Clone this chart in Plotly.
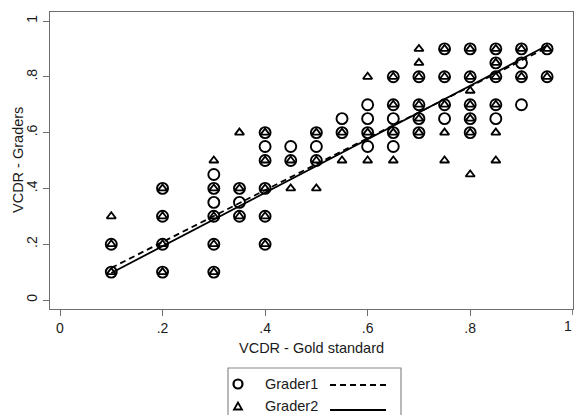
import plotly.graph_objects as go

# ---- data ----
g1_x = [0.1, 0.1,
        0.2, 0.2, 0.2, 0.2,
        0.3, 0.3, 0.3, 0.3, 0.3, 0.3,
        0.35, 0.35, 0.35,
        0.4, 0.4, 0.4, 0.4, 0.4, 0.4,
        0.45, 0.45,
        0.5, 0.5, 0.5,
        0.55, 0.55,
        0.6, 0.6, 0.6, 0.6,
        0.65, 0.65, 0.65, 0.65, 0.65,
        0.7, 0.7, 0.7, 0.7,
        0.75, 0.75, 0.75, 0.75,
        0.8, 0.8, 0.8, 0.8, 0.8,
        0.85, 0.85, 0.85, 0.85, 0.85,
        0.9, 0.9, 0.9, 0.9,
        0.95, 0.95]
g1_y = [0.1, 0.2,
        0.1, 0.2, 0.3, 0.4,
        0.1, 0.2, 0.3, 0.35, 0.4, 0.45,
        0.3, 0.35, 0.4,
        0.2, 0.3, 0.4, 0.5, 0.55, 0.6,
        0.5, 0.55,
        0.5, 0.55, 0.6,
        0.6, 0.65,
        0.55, 0.6, 0.65, 0.7,
        0.55, 0.6, 0.65, 0.7, 0.8,
        0.6, 0.65, 0.7, 0.8,
        0.65, 0.7, 0.8, 0.9,
        0.6, 0.65, 0.7, 0.8, 0.9,
        0.65, 0.7, 0.8, 0.85, 0.9,
        0.7, 0.8, 0.85, 0.9,
        0.8, 0.9]

g2_x = [0.1, 0.1, 0.1,
        0.2, 0.2, 0.2, 0.2,
        0.3, 0.3, 0.3, 0.3, 0.3,
        0.35, 0.35, 0.35,
        0.4, 0.4, 0.4, 0.4, 0.4,
        0.45, 0.45,
        0.5, 0.5, 0.5,
        0.55, 0.55,
        0.6, 0.6, 0.6,
        0.65, 0.65, 0.65, 0.65,
        0.7, 0.7, 0.7, 0.7, 0.7, 0.7,
        0.75, 0.75, 0.75, 0.75, 0.75,
        0.8, 0.8, 0.8, 0.8, 0.8, 0.8, 0.8,
        0.85, 0.85, 0.85, 0.85, 0.85, 0.85,
        0.9, 0.9,
        0.95, 0.95]
g2_y = [0.1, 0.2, 0.3,
        0.1, 0.2, 0.3, 0.4,
        0.1, 0.2, 0.3, 0.4, 0.5,
        0.3, 0.4, 0.6,
        0.2, 0.3, 0.4, 0.5, 0.6,
        0.4, 0.5,
        0.4, 0.5, 0.6,
        0.5, 0.6,
        0.5, 0.6, 0.8,
        0.5, 0.6, 0.7, 0.8,
        0.6, 0.65, 0.7, 0.8, 0.85, 0.9,
        0.5, 0.6, 0.7, 0.8, 0.9,
        0.45, 0.6, 0.65, 0.7, 0.75, 0.8, 0.9,
        0.5, 0.6, 0.7, 0.8, 0.85, 0.9,
        0.8, 0.9,
        0.8, 0.9]

# fitted lines
fit_x = [0.1, 0.95]
g1_fit = [0.115, 0.905]
g2_fit = [0.097, 0.912]

tick_vals = [0, 0.2, 0.4, 0.6, 0.8, 1]
tick_text = ["0", ".2", ".4", ".6", ".8", "1"]

series_names = ["Grader1", "Grader2"]
x_title = "VCDR - Gold standard"
y_title = "VCDR - Graders"

# ---- figure ----
W, H = 574, 415
ML, MR, MT, MB = 50, 1, 12, 106
PW, PH = W - ML - MR, H - MT - MB


def px(x):
    return (x - ML) / PW


def py(y):
    return (H - MB - y) / PH


FONT = "Liberation Sans, Arial, sans-serif"
INK = "#1a1a1a"
FRAME = "#6e6e6e"

fig = go.Figure()
fig.add_trace(go.Scatter(x=g1_x, y=g1_y, mode="markers", name=series_names[0],
                         marker=dict(symbol="circle-open", size=11, color="black",
                                     line=dict(width=1.9, color="black")),
                         showlegend=False))
fig.add_trace(go.Scatter(x=g2_x, y=g2_y, mode="markers", name=series_names[1],
                         marker=dict(symbol="triangle-up-open", size=8, color="black",
                                     line=dict(width=1.8, color="black")),
                         showlegend=False))
fig.add_trace(go.Scatter(x=fit_x, y=g1_fit, mode="lines", showlegend=False,
                         line=dict(color="black", width=1.8, dash="6px,4px")))
fig.add_trace(go.Scatter(x=fit_x, y=g2_fit, mode="lines", showlegend=False,
                         line=dict(color="black", width=1.8)))

axis_common = dict(showgrid=False, zeroline=False, showline=True, mirror=True,
                   linecolor=FRAME, linewidth=1.2, ticks="outside", ticklen=6,
                   tickcolor=FRAME, tickwidth=1.2, automargin=False,
                   tickfont=dict(family=FONT, size=14, color=INK))

fig.update_xaxes(range=[-10 / 513, 1.0005], tickvals=tick_vals[:-1], ticktext=tick_text[:-1],
                 **axis_common)
fig.update_yaxes(range=[-9 / 279, 1 + 9 / 279], tickangle=-90,
                 tickvals=tick_vals, ticktext=tick_text, **axis_common)

annotations = [
    # last x tick label, kept just inside the right edge of the picture
    dict(x=px(574), y=py(326), xref="paper", yref="paper", text=tick_text[-1],
         showarrow=False, font=dict(family=FONT, size=14, color=INK),
         xanchor="right", yanchor="middle", xshift=0),
    dict(x=px(311), y=py(348), xref="paper", yref="paper", text=x_title,
         showarrow=False, font=dict(family=FONT, size=14.5, color=INK),
         xanchor="center", yanchor="middle"),
    dict(x=px(18), y=py(160), xref="paper", yref="paper", text=y_title,
         showarrow=False, textangle=-90, font=dict(family=FONT, size=14.5, color=INK),
         xanchor="center", yanchor="middle"),
    dict(x=px(263), y=py(384), xref="paper", yref="paper", text=series_names[0],
         showarrow=False, font=dict(family=FONT, size=14.5, color=INK),
         xanchor="left", yanchor="middle"),
    dict(x=px(263), y=py(406), xref="paper", yref="paper", text=series_names[1],
         showarrow=False, font=dict(family=FONT, size=14.5, color=INK),
         xanchor="left", yanchor="middle"),
]

# triangle path for legend symbol
tcx, tcy, th, tw = 238, 406, 7, 8
tri = "M {} {} L {} {} L {} {} Z".format(
    px(tcx), py(tcy - th / 2), px(tcx - tw / 2), py(tcy + th / 2), px(tcx + tw / 2), py(tcy + th / 2))

shapes = [
    # tick mark for x = 1
    dict(type="line", xref="x", yref="paper", x0=tick_vals[-1], x1=tick_vals[-1], y0=0, y1=py(315),
         line=dict(color=FRAME, width=1.2)),
    dict(type="rect", xref="paper", yref="paper", x0=px(228), x1=px(401), y0=py(368), y1=py(440),
         line=dict(color="#8a8a8a", width=1.2), fillcolor="rgba(0,0,0,0)"),
    dict(type="circle", xref="paper", yref="paper", x0=px(233.5), x1=px(242.5), y0=py(379.5), y1=py(388.5),
         line=dict(color="black", width=2.2)),
    dict(type="path", xref="paper", yref="paper", path=tri, line=dict(color="black", width=1.8)),
    dict(type="line", xref="paper", yref="paper", x0=px(330), x1=px(386), y0=py(385), y1=py(385),
         line=dict(color="black", width=1.8, dash="6px,4px")),
    dict(type="line", xref="paper", yref="paper", x0=px(330), x1=px(386), y0=py(410), y1=py(410),
         line=dict(color="black", width=1.8)),
]

fig.update_layout(width=W, height=H, margin=dict(l=ML, r=MR, t=MT, b=MB),
                  paper_bgcolor="white", plot_bgcolor="white",
                  annotations=annotations, shapes=shapes, showlegend=False)

fig.write_html("out.html", config={"displayModeBar": False},
               post_script="document.body.style.margin='0';document.body.style.overflow='hidden';")
